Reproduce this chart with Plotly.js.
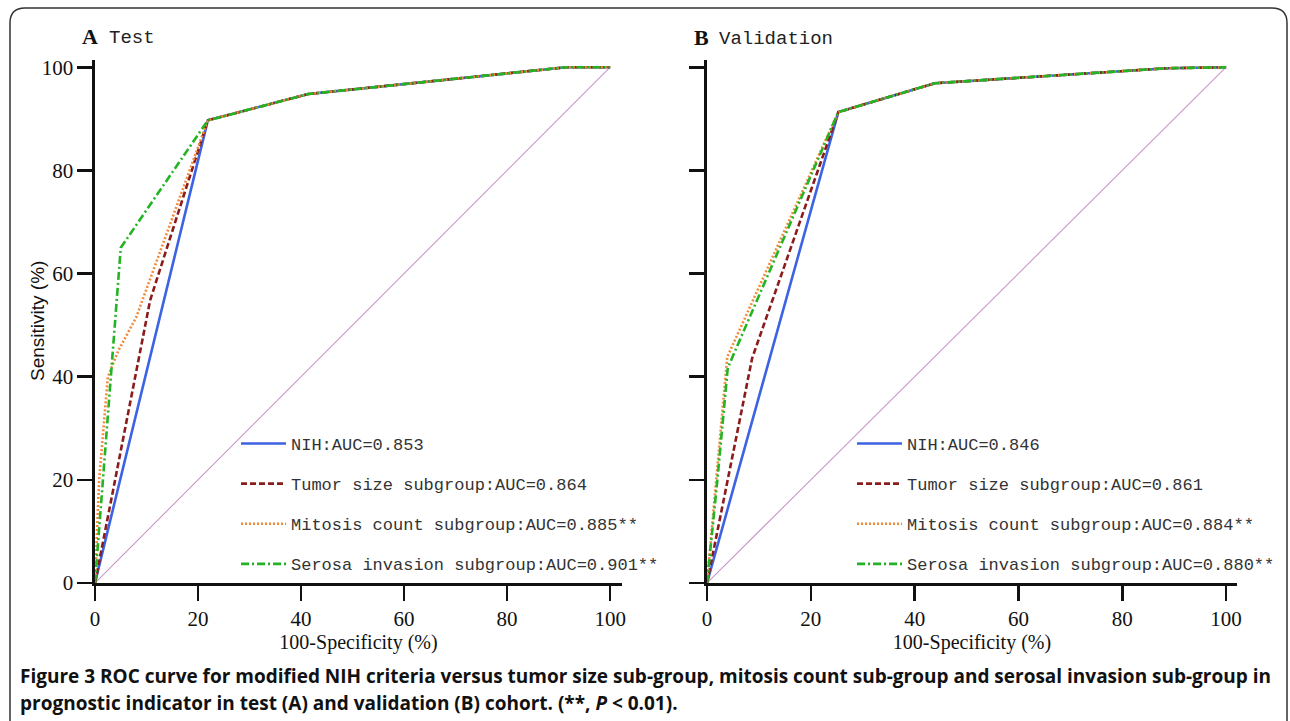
<!DOCTYPE html>
<html>
<head>
<meta charset="utf-8">
<script src="https://cdn.plot.ly/plotly-3.0.1.min.js"></script>
<style>html,body{margin:0;padding:0;background:#fff;}#chart{width:1290px;height:721px;}</style>
</head>
<body>
<div id="chart"></div>
<script>
// ---- Data ----
const xTicks = [0, 20, 40, 60, 80, 100];
const yTicks = [0, 20, 40, 60, 80, 100];

// Panel A: Test cohort
const testNihX = [0, 21.9, 41.4, 91.5, 100];
const testNihY = [0, 89.7, 94.8, 100, 100];
const testTumorX = [0, 10.7, 21.9, 41.4, 91.5, 100];
const testTumorY = [0, 54.8, 89.7, 94.8, 100, 100];
const testMitosisX = [0, 0.8, 2.5, 4.5, 8, 21.9, 41.4, 91.5, 100];
const testMitosisY = [0, 20, 40, 45, 51.5, 89.7, 94.8, 100, 100];
const testSerosaX = [0, 5, 21.9, 41.4, 91.5, 100];
const testSerosaY = [0, 65, 89.7, 94.8, 100, 100];

// Panel B: Validation cohort
const valNihX = [0, 25.3, 43.9, 88.6, 100];
const valNihY = [0, 91.3, 96.9, 99.8, 100];
const valTumorX = [0, 8.7, 25.3, 43.9, 88.6, 100];
const valTumorY = [0, 43.6, 91.3, 96.9, 99.8, 100];
const valMitosisX = [0, 3.9, 25.3, 43.9, 88.6, 100];
const valMitosisY = [0, 43.8, 91.3, 96.9, 99.8, 100];
const valSerosaX = [0, 2, 4, 25.3, 43.9, 88.6, 100];
const valSerosaY = [0, 20, 41.7, 91.3, 96.9, 99.8, 100];

const refX = [0, 100];
const refY = [0, 100];

const testLabels = ["NIH:AUC=0.853", "Tumor size subgroup:AUC=0.864",
  "Mitosis count subgroup:AUC=0.885**", "Serosa invasion subgroup:AUC=0.901**"];
const valLabels = ["NIH:AUC=0.846", "Tumor size subgroup:AUC=0.861",
  "Mitosis count subgroup:AUC=0.884**", "Serosa invasion subgroup:AUC=0.880**"];

// ---- Styles ----
const seriesStyle = [
  {color: "#3c63e4", dash: "solid"},
  {color: "#8b1c1c", dash: "6px,3px"},
  {color: "#f28a3a", dash: "2px,2px"},
  {color: "#22b422", dash: "8px,3px,2px,3px"}
];
const W = 1290, H = 721;
const px = v => v / W;
const py = v => (H - v) / H;

function mk(x, y, i, label, xa, ya, leg) {
  return {
    x: x, y: y, type: "scatter", mode: "lines", name: label,
    xaxis: xa, yaxis: ya, legend: leg, legendgroup: leg + i,
    line: {color: seriesStyle[i].color, dash: seriesStyle[i].dash, width: 2.6},
    hoverinfo: "skip"
  };
}
function ref(xa, ya) {
  return {x: refX, y: refY, type: "scatter", mode: "lines", showlegend: false,
    xaxis: xa, yaxis: ya, line: {color: "#c898c8", width: 1.1}, hoverinfo: "skip"};
}

const data = [
  ref("x", "y"),
  mk(testNihX, testNihY, 0, testLabels[0], "x", "y", "legend"),
  mk(testTumorX, testTumorY, 1, testLabels[1], "x", "y", "legend"),
  mk(testMitosisX, testMitosisY, 2, testLabels[2], "x", "y", "legend"),
  mk(testSerosaX, testSerosaY, 3, testLabels[3], "x", "y", "legend"),
  ref("x2", "y2"),
  mk(valNihX, valNihY, 0, valLabels[0], "x2", "y2", "legend2"),
  mk(valTumorX, valTumorY, 1, valLabels[1], "x2", "y2", "legend2"),
  mk(valMitosisX, valMitosisY, 2, valLabels[2], "x2", "y2", "legend2"),
  mk(valSerosaX, valSerosaY, 3, valLabels[3], "x2", "y2", "legend2")
];

const serif = "Liberation Serif";
const mono = "Liberation Mono";
const axisCommon = {
  showline: true, linewidth: 2.6, linecolor: "#111", ticks: "outside",
  ticklen: 15, tickwidth: 2.6, tickcolor: "#111", showgrid: false, zeroline: false,
  tickfont: {family: serif, size: 21, color: "#111"}, fixedrange: true
};
const xCommon = Object.assign({}, axisCommon, {
  tickvals: xTicks, ticktext: xTicks.map(String)
});
const yCommon = Object.assign({}, axisCommon, {
  tickvals: yTicks, ticktext: yTicks.map(String)
});

const legendCommon = {
  bgcolor: "rgba(0,0,0,0)", borderwidth: 0, xanchor: "left", yanchor: "top",
  font: {family: mono, size: 17, color: "#333"}, itemwidth: 45, tracegroupgap: 15,
  traceorder: "grouped", itemclick: false, itemdoubleclick: false
};

const r = 15;
const fx0 = px(10), fx1 = px(1287), fyt = py(8), fyb = -0.05;
const rx = r / W, ry = r / H;
const framePath = `M ${fx0} ${fyb} L ${fx0} ${fyt - ry} Q ${fx0} ${fyt} ${fx0 + rx} ${fyt} ` +
  `L ${fx1 - rx} ${fyt} Q ${fx1} ${fyt} ${fx1} ${fyt - ry} L ${fx1} ${fyb}`;

const capFont = {family: "Open Sans", size: 19, color: "#111"};
const xTitleFont = {family: serif, size: 20, color: "#111"};

const layout = {
  width: W, height: H, margin: {l: 0, r: 0, t: 0, b: 0},
  paper_bgcolor: "#fff", plot_bgcolor: "#fff", showlegend: true,
  xaxis: Object.assign({}, xCommon, {domain: [px(95), px(622)], range: [0, 102.3], anchor: "y",
    title: {text: "100-Specificity (%)", font: xTitleFont, standoff: 2}}),
  yaxis: Object.assign({}, yCommon, {domain: [py(583), py(60)], range: [0, 101.4], anchor: "x"}),
  xaxis2: Object.assign({}, xCommon, {domain: [px(707), px(1237)], range: [0, 102.1], anchor: "y2",
    title: {text: "100-Specificity (%)", font: xTitleFont, standoff: 2}}),
  yaxis2: Object.assign({}, yCommon, {domain: [py(583), py(60)], range: [0, 101.4], anchor: "x2",
    showticklabels: false}),
  legend: Object.assign({}, legendCommon, {x: px(236), y: py(426)}),
  legend2: Object.assign({}, legendCommon, {x: px(852), y: py(426)}),
  shapes: [{type: "path", xref: "paper", yref: "paper", path: framePath,
    line: {color: "#333", width: 1.5}}],
  annotations: [
    {xref: "paper", yref: "paper", x: px(37), y: py(321), xanchor: "center", yanchor: "middle",
      text: "Sensitivity (%)", textangle: -90, showarrow: false,
      font: {family: "Liberation Sans", size: 19, color: "#111"}},
    {xref: "paper", yref: "paper", x: px(80), y: py(37), xanchor: "left", yanchor: "middle",
      text: "<b>A</b>", showarrow: false, font: {family: serif, size: 22, color: "#111"}},
    {xref: "paper", yref: "paper", x: px(107), y: py(38), xanchor: "left", yanchor: "middle",
      text: "Test", showarrow: false, font: {family: mono, size: 19, color: "#222"}},
    {xref: "paper", yref: "paper", x: px(692), y: py(38), xanchor: "left", yanchor: "middle",
      text: "<b>B</b>", showarrow: false, font: {family: serif, size: 22, color: "#111"}},
    {xref: "paper", yref: "paper", x: px(717), y: py(39), xanchor: "left", yanchor: "middle",
      text: "Validation", showarrow: false, font: {family: mono, size: 19, color: "#222"}},
    {xref: "paper", yref: "paper", x: px(18), y: py(676), xanchor: "left", yanchor: "middle",
      text: "<b>Figure 3 ROC curve for modified NIH criteria versus tumor size sub-group, mitosis count sub-group and serosal invasion sub-group in</b>",
      showarrow: false, font: capFont},
    {xref: "paper", yref: "paper", x: px(18), y: py(703), xanchor: "left", yanchor: "middle",
      text: "<b>prognostic indicator in test (A) and validation (B) cohort. (**, <i>P</i> &lt; 0.01).</b>",
      showarrow: false, font: capFont}
  ]
};

Plotly.newPlot("chart", data, layout, {staticPlot: true, displayModeBar: false});
</script>
</body>
</html>
